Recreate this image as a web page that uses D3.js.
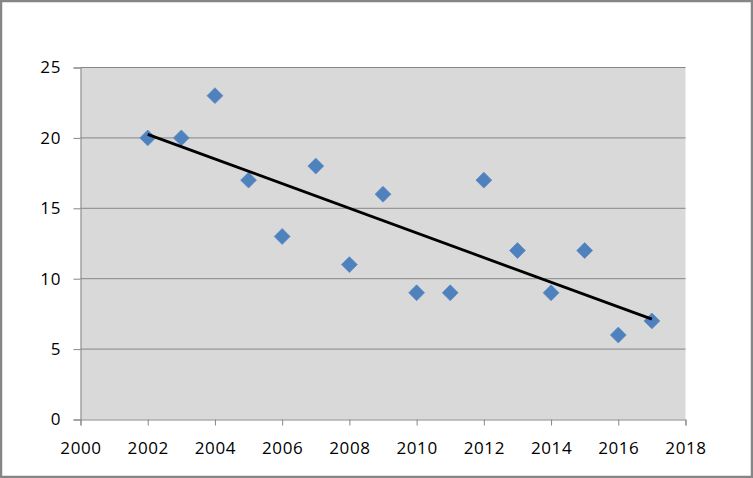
<!DOCTYPE html>
<html><head><meta charset="utf-8">
<script src="https://cdn.jsdelivr.net/npm/d3@7"></script>
<style>body{margin:0;background:#fff}svg{display:block}</style>
</head><body>
<script>
const years = [2002,2003,2004,2005,2006,2007,2008,2009,2010,2011,2012,2013,2014,2015,2016,2017];
const values = [20,20,23,17,13,18,11,16,9,9,17,12,9,12,6,7];
const xTicks = [2000,2002,2004,2006,2008,2010,2012,2014,2016,2018];
const yTicks = [0,5,10,15,20,25];

const W = 753, H = 478;
const svg = d3.select("body").append("svg").attr("width", W).attr("height", H);
svg.append("rect").attr("x",1).attr("y",1).attr("width",W-2).attr("height",H-2)
  .attr("fill","#fff").attr("stroke","#868686").attr("stroke-width",2.5);

const L = 80.5, R = 685.5, T = 67.5, B = 419.5;
const x = d3.scaleLinear().domain([2000,2018]).range([L,R]);
const y = d3.scaleLinear().domain([0,25]).range([B,T]);

svg.append("rect").attr("x",L).attr("y",T).attr("width",R-L).attr("height",B-T).attr("fill","#d9d9d9");
svg.append("g").selectAll("line").data(yTicks.filter(d=>d>0)).join("line")
  .attr("x1",L).attr("x2",R).attr("y1",d=>y(d)).attr("y2",d=>y(d))
  .attr("stroke","#868686").attr("stroke-width",1);

const font = "'Open Sans', 'Liberation Sans', sans-serif";
const yAxis = svg.append("g").attr("transform",`translate(${L},0)`)
  .call(d3.axisLeft(y).tickValues(yTicks).tickSize(7).tickPadding(12.5).tickFormat(d3.format("d")));
const xAxis = svg.append("g").attr("transform",`translate(0,${B})`)
  .call(d3.axisBottom(x).tickValues(xTicks).tickSize(6).tickPadding(16).tickFormat(d3.format("d")));
[yAxis,xAxis].forEach(g=>{
  g.select(".domain").attr("stroke","#868686");
  g.selectAll(".tick line").attr("stroke","#868686");
  g.selectAll("text").attr("fill","#000").style("font-family",font)
    .style("font-size","17px").style("letter-spacing","0.6px");
});

// linear trendline (least squares)
const mx = d3.mean(years), my = d3.mean(values);
const slope = d3.sum(years,(v,i)=>(v-mx)*(values[i]-my)) / d3.sum(years,v=>(v-mx)*(v-mx));
const icpt = my - slope*mx;
const x0 = d3.min(years), x1 = d3.max(years);

const sym = d3.symbol().type(d3.symbolDiamond2).size(160);
svg.append("g").selectAll("path").data(years).join("path")
  .attr("d", sym)
  .attr("transform",(d,i)=>`translate(${x(d)},${y(values[i])})`)
  .attr("fill","#4f81bd").attr("stroke","#5b8cc8").attr("stroke-width",0.8);

svg.append("line").attr("x1",x(x0)).attr("y1",y(slope*x0+icpt))
  .attr("x2",x(x1)).attr("y2",y(slope*x1+icpt))
  .attr("stroke","#000").attr("stroke-width",2.8);
</script>
</body></html>
